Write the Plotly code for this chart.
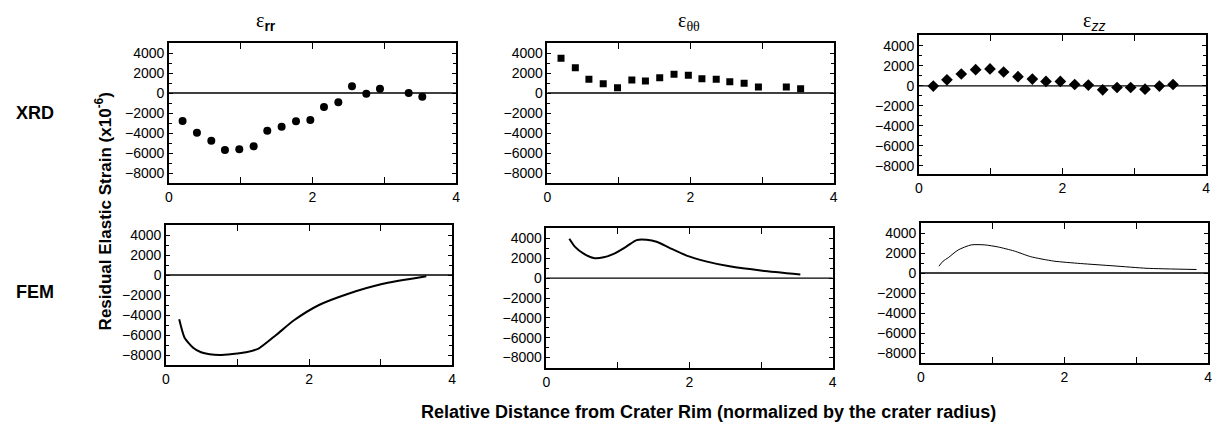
import plotly.graph_objects as go

# ---- data ----
xrd_rr_x = [0.19, 0.39, 0.59, 0.78, 0.98, 1.18, 1.37, 1.57, 1.77, 1.97, 2.16, 2.36, 2.55, 2.75, 2.94, 3.34, 3.53]
xrd_rr_y = [-2800, -3970, -4770, -5700, -5630, -5330, -3770, -3370, -2830, -2700, -1400, -930, 670, -70, 430, 0, -370]

xrd_tt_x = [0.19, 0.39, 0.58, 0.78, 0.98, 1.18, 1.37, 1.57, 1.77, 1.97, 2.16, 2.36, 2.55, 2.75, 2.95, 3.34, 3.54]
xrd_tt_y = [3470, 2530, 1370, 930, 530, 1300, 1200, 1530, 1870, 1770, 1430, 1370, 1130, 970, 600, 600, 430]

xrd_zz_x = [0.20, 0.39, 0.59, 0.79, 0.99, 1.18, 1.38, 1.58, 1.77, 1.97, 2.17, 2.36, 2.56, 2.76, 2.95, 3.15, 3.35, 3.54]
xrd_zz_y = [-30, 600, 1180, 1610, 1680, 1380, 910, 670, 440, 440, 130, 70, -400, -170, -170, -340, -30, 130]

fem_rr_x = [0.185, 0.26, 0.38, 0.49, 0.61, 0.75, 0.93, 1.12, 1.30, 1.54, 1.79, 2.14, 2.55, 3.02, 3.64]
fem_rr_y = [-4430, -6270, -7270, -7730, -7930, -8000, -7900, -7730, -7330, -6000, -4530, -3000, -1870, -900, -130]

fem_tt_x = [0.32, 0.40, 0.52, 0.66, 0.80, 0.94, 1.12, 1.26, 1.40, 1.54, 1.72, 1.96, 2.23, 2.56, 3.02, 3.55]
fem_tt_y = [3970, 3150, 2470, 2030, 2100, 2440, 3190, 3830, 3860, 3660, 3050, 2270, 1690, 1190, 750, 370]

fem_zz_x = [0.25, 0.31, 0.38, 0.52, 0.70, 0.89, 1.07, 1.30, 1.53, 1.85, 2.22, 2.69, 3.15, 3.84]
fem_zz_y = [680, 1190, 1530, 2310, 2810, 2810, 2610, 2200, 1630, 1190, 950, 710, 470, 350]

x_tickvals = [0, 1, 2, 3, 4]
x_ticktext = ["0", "", "2", "", "4"]
y_tickvals = [4000, 2000, 0, -2000, -4000, -6000, -8000]
SANS = "Liberation Sans, Arial, sans-serif"
col_titles = [
    f"ε<sub><span style='font-family:{SANS}'><b>rr</b></span></sub>",
    "ε<sub>θθ</sub>",
    f"ε<sub><span style='font-family:{SANS}'><i>zz</i></span></sub>",
]
row_titles = ["XRD", "FEM"]

# page body has an 8px margin; draw the figure smaller and offset everything by it
OFF = 8
W, H = 1224 - 2 * OFF, 430 - 2 * OFF


def px(v):
    return (v - OFF) / W


def py(v):
    return 1 - (v - OFF) / H


# panel pixel boxes (reference page coords): (left, right, top, bottom), y-range
panels = [
    ((166, 455, 43, 183), (-9000, 5000)),
    ((547, 835, 43, 183), (-9000, 5000)),
    ((921, 1210, 35, 174), (-8800, 5070)),
    ((163, 451, 225, 365), (-9000, 5000)),
    ((546, 834, 228, 368), (-9050, 5050)),
    ((923, 1212, 223, 363), (-9000, 5000)),
]

fig = go.Figure()
font_tick = dict(family=SANS, size=14, color="black")

series = [
    (xrd_rr_x, xrd_rr_y, "markers", dict(symbol="circle", size=8, color="black"), None),
    (xrd_tt_x, xrd_tt_y, "markers", dict(symbol="square", size=7, color="black"), None),
    (xrd_zz_x, xrd_zz_y, "markers", dict(symbol="diamond", size=9, color="black"), None),
    (fem_rr_x, fem_rr_y, "lines", None, dict(color="black", width=2)),
    (fem_tt_x, fem_tt_y, "lines", None, dict(color="black", width=2)),
    (fem_zz_x, fem_zz_y, "lines", None, dict(color="black", width=1)),
]

for i, ((box, yr), (sx, sy, mode, mk, ln)) in enumerate(zip(panels, series)):
    n = i + 1
    xa = "x" if n == 1 else f"x{n}"
    ya = "y" if n == 1 else f"y{n}"
    l, r, t, b = box
    kw = dict(x=sx, y=sy, mode=mode, xaxis=xa, yaxis=ya, showlegend=False)
    if mk:
        kw["marker"] = mk
    if ln:
        kw["line"] = dict(shape="spline", smoothing=0.6, **ln)
    fig.add_trace(go.Scatter(**kw))
    common_axis = dict(showgrid=False, showline=True, linecolor="black",
                       linewidth=1.5, mirror="allticks", ticks="inside", tickcolor="black",
                       tickfont=font_tick)
    fig.layout[("xaxis" if n == 1 else f"xaxis{n}")] = dict(
        domain=[px(l), px(r)], range=[0, 4], anchor=ya, zeroline=False,
        tickvals=x_tickvals, ticktext=x_ticktext, ticklen=6, tickwidth=1,
        **common_axis)
    fig.layout[("yaxis" if n == 1 else f"yaxis{n}")] = dict(
        domain=[py(b), py(t)], range=list(yr), anchor=xa, zeroline=False,
        tickvals=y_tickvals, ticklen=4, tickwidth=1,
        minor=dict(ticks="inside", dtick=1000, tick0=0, ticklen=3, tickcolor="black"),
        **common_axis)
    # zero reference line
    fig.add_shape(type="line", xref=f"{xa} domain", yref=ya, x0=0, x1=1, y0=0, y1=0,
                  line=dict(color="black", width=1.3))

for txt, xp in zip(col_titles, [264, 690, 1097]):
    fig.add_annotation(text=txt, x=px(xp), y=py(21), xref="paper", yref="paper",
                       xanchor="center", yanchor="middle", showarrow=False,
                       font=dict(family="Liberation Serif, Times New Roman, serif", size=20, color="black"))
for txt, yp in zip(row_titles, [113, 292]):
    fig.add_annotation(text="<b>" + txt + "</b>", x=px(31), y=py(yp), xref="paper", yref="paper",
                       xanchor="center", yanchor="middle", showarrow=False,
                       font=dict(family=SANS, size=18, color="black"))
fig.add_annotation(text="<b>Residual Elastic Strain (x10<sup>-6</sup>)</b>", x=px(100), y=py(211),
                   xref="paper", yref="paper", xanchor="center", yanchor="middle",
                   showarrow=False, textangle=-90, font=dict(family=SANS, size=17, color="black"))
fig.add_annotation(text="<b>Relative Distance from Crater Rim (normalized by the crater radius)</b>",
                   x=px(709), y=py(412), xref="paper", yref="paper", xanchor="center",
                   yanchor="middle", showarrow=False, font=dict(family=SANS, size=18, color="black"))

fig.update_layout(width=W, height=H, margin=dict(l=0, r=0, t=0, b=0),
                  paper_bgcolor="white", plot_bgcolor="white")
fig.write_html("out.html")
